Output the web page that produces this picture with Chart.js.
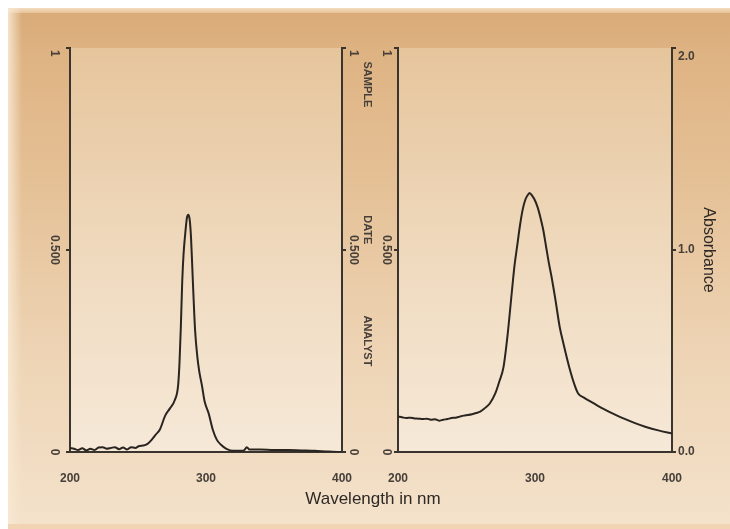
<!DOCTYPE html>
<html>
<head>
<meta charset="utf-8">
<title>Absorption spectra</title>
<script src="https://cdn.jsdelivr.net/npm/chart.js@4.4.1/dist/chart.umd.min.js"></script>
<style>
  html, body { margin: 0; padding: 0; background: #fff; }
  #stage { position: relative; width: 730px; height: 529px; overflow: hidden; background: #fff;
    font-family: 'Liberation Sans', Arial, sans-serif; }
  #frame { position: absolute; left: 8px; top: 8px; width: 722px; height: 516px;
    background: linear-gradient(180deg, #d9aa77 0%, #dfb484 10%, #e5c197 35%, #edd3b3 65%, #f4e2cb 100%); }
  #frame::before { content: ''; position: absolute; left: 0; top: 0; right: 0; height: 5px;
    background: linear-gradient(180deg, #f3dcc0, #e7c297); }
  #frame::after { content: ''; position: absolute; left: 0; top: 0; bottom: 0; width: 14px;
    background: linear-gradient(90deg, rgba(248, 232, 210, 0.9), rgba(248, 232, 210, 0)); }
  #foot { position: absolute; left: 8px; top: 524px; width: 722px; height: 5px; background: #f1d4b4; }
  canvas { position: absolute; top: 0; }
  #left { left: 0; }
  #right { left: 375px; }
  #xtitle { position: absolute; left: 0; width: 746px; top: 489px; text-align: center;
    font-size: 17px; color: #2e2925; }
</style>
</head>
<body>
<div id="stage">
  <div id="frame"></div>
  <div id="foot"></div>
  <canvas id="left" width="385" height="529"></canvas>
  <canvas id="right" width="355" height="529"></canvas>
  <div id="xtitle">Wavelength in nm</div>
</div>
<script>
// left trace: narrow band, relative scale 0..1
const leftWavelength = [200, 203, 206, 209, 212, 215, 218, 221, 224, 227, 230, 233, 236, 239, 242, 245, 248, 251, 254, 257,
  260, 263, 266, 270, 273.5, 277, 279.5, 280.5, 281.5, 282.5, 283.5, 285, 286, 287, 288, 289, 290, 291, 292, 293.5,
  295, 297, 299, 302, 305, 308, 311, 315, 320, 326, 328, 330, 332, 340, 350, 360, 370, 380, 390, 400]
const leftReading = [0.010, 0.008, 0.005, 0.009, 0.004, 0.008, 0.005, 0.011, 0.012, 0.008, 0.010, 0.012, 0.007, 0.011, 0.006, 0.012, 0.010, 0.015, 0.016, 0.020,
  0.030, 0.043, 0.055, 0.090, 0.108, 0.128, 0.165, 0.22, 0.31, 0.42, 0.49, 0.55, 0.58, 0.587, 0.575, 0.53, 0.45, 0.37, 0.30, 0.24,
  0.20, 0.165, 0.125, 0.095, 0.055, 0.03, 0.018, 0.008, 0.003, 0.003, 0.004, 0.012, 0.006, 0.006, 0.005, 0.005, 0.004, 0.003, 0.001, 0.000]

// right trace: broad band, absorbance 0..2
const rightWavelength = [200, 203, 206, 209, 212, 215, 218, 221, 224, 227, 230, 233, 236, 239, 242, 245, 248, 251, 254, 257,
  260, 263, 267, 271, 274, 277, 280, 283, 285, 287, 289, 291, 293, 295, 296, 298, 300, 302, 304, 306,
  308, 310, 312, 315, 318, 321, 325, 329, 331.5, 336, 340, 345, 350, 357, 365, 373, 381, 390, 400]
const rightAbsorbance = [0.175, 0.172, 0.168, 0.170, 0.166, 0.165, 0.163, 0.165, 0.160, 0.162, 0.155, 0.160, 0.163, 0.168, 0.170, 0.175, 0.180, 0.183, 0.187, 0.193,
  0.200, 0.215, 0.24, 0.29, 0.35, 0.42, 0.58, 0.786, 0.92, 1.02, 1.12, 1.20, 1.25, 1.275, 1.282, 1.268, 1.245, 1.21, 1.16, 1.10,
  1.02, 0.94, 0.87, 0.75, 0.62, 0.53, 0.42, 0.33, 0.29, 0.268, 0.252, 0.232, 0.213, 0.19, 0.165, 0.143, 0.124, 0.107, 0.092]

const relativeTicks = { 0: '0', 0.5: '0.500', 1: '1' }
const absorbanceTicks = { 0: '0.0', 1: '1.0', 2: '2.0' }
const captions = [
  { text: 'SAMPLE', at: 0.91 },
  { text: 'DATE', at: 0.55 },
  { text: 'ANALYST', at: 0.275 }
]

const lineColor = '#2a2520'
const axisColor = '#3a342e'
const labelColor = '#47403a'
const labelFont = 'bold 12px "Liberation Sans", Arial, sans-serif'
const captionFont = 'bold 11px "Liberation Sans", Arial, sans-serif'

function points (xs, ys) {
  return xs.map((x, i) => ({ x, y: ys[i] }))
}

function fixedWidth (w) {
  return scale => { scale.width = w }
}

function fixedHeight (h) {
  return scale => { scale.height = h }
}

// lighter panel behind each trace
const plotBackground = {
  id: 'plotBackground',
  beforeDraw (chart) {
    const { ctx, chartArea: a } = chart
    const g = ctx.createLinearGradient(0, a.top, 0, a.bottom)
    g.addColorStop(0, '#e6c59c')
    g.addColorStop(0.5, '#efd9bd')
    g.addColorStop(1, '#f6e9d8')
    ctx.save()
    ctx.fillStyle = g
    ctx.fillRect(a.left, a.top, a.right - a.left, a.bottom - a.top)
    ctx.restore()
  }
}

// y tick labels (rotated on the relative axes) and the side captions
const sideLabels = {
  id: 'sideLabels',
  afterDraw (chart, args, opts) {
    const ctx = chart.ctx
    const top = chart.chartArea.top
    ctx.save()
    ctx.fillStyle = labelColor
    ctx.textBaseline = 'middle'
    for (const axis of opts.axes || []) {
      const scale = chart.scales[axis.id]
      const x = (axis.dx < 0 ? scale.right : scale.left) + axis.dx
      ctx.font = labelFont
      for (const tick of scale.ticks) {
        const py = scale.getPixelForValue(tick.value)
        const w = ctx.measureText(tick.label).width
        if (axis.rotate) {
          const y = Math.max(py, top + w / 2 + 2)
          ctx.save()
          ctx.translate(x, y)
          ctx.rotate(Math.PI / 2)
          ctx.textAlign = 'center'
          ctx.fillText(tick.label, 0, 0)
          ctx.restore()
        } else {
          ctx.textAlign = 'left'
          ctx.fillText(tick.label, x, Math.max(py, top + 9))
        }
      }
    }
    if (opts.captions) {
      const scale = chart.scales[opts.captions.id]
      ctx.font = captionFont
      for (const c of captions) {
        ctx.save()
        ctx.translate(scale.left + opts.captions.dx, scale.getPixelForValue(c.at))
        ctx.rotate(Math.PI / 2)
        ctx.textAlign = 'center'
        ctx.fillText(c.text, 0, 0)
        ctx.restore()
      }
    }
    ctx.restore()
  }
}

function yAxis (position, max, labels, width, extra) {
  return Object.assign({
    type: 'linear',
    position,
    min: 0,
    max,
    afterFit: fixedWidth(width),
    ticks: { display: false, stepSize: max / 2, callback: v => labels[v] },
    grid: { drawOnChartArea: false, tickLength: 4, color: axisColor, lineWidth: 2 },
    border: { color: axisColor, width: 2 }
  }, extra || {})
}

function xAxis () {
  return {
    type: 'linear',
    min: 200,
    max: 400,
    afterFit: fixedHeight(77),
    grid: { display: false },
    border: { color: axisColor, width: 2 },
    ticks: {
      stepSize: 100,
      padding: 11,
      color: labelColor,
      font: { family: '"Liberation Sans", Arial, sans-serif', size: 12, weight: 'bold' }
    }
  }
}

function trace (xs, ys, axisId) {
  return {
    data: points(xs, ys),
    yAxisID: axisId,
    borderColor: lineColor,
    borderWidth: 2,
    pointRadius: 0,
    cubicInterpolationMode: 'monotone'
  }
}

new Chart(document.getElementById('left'), {
  type: 'line',
  data: { datasets: [trace(leftWavelength, leftReading, 'rel')] },
  plugins: [plotBackground, sideLabels],
  options: {
    responsive: false,
    animation: false,
    layout: { padding: { top: 48 } },
    plugins: {
      legend: { display: false },
      tooltip: { enabled: false },
      sideLabels: {
        axes: [{ id: 'rel', dx: -16, rotate: true }, { id: 'relRight', dx: 11, rotate: true }],
        captions: { id: 'relRight', dx: 25 }
      }
    },
    scales: {
      x: xAxis(),
      rel: yAxis('left', 1, relativeTicks, 70),
      relRight: yAxis('right', 1, relativeTicks, 43)
    }
  }
})

new Chart(document.getElementById('right'), {
  type: 'line',
  data: { datasets: [trace(rightWavelength, rightAbsorbance, 'abs')] },
  plugins: [plotBackground, sideLabels],
  options: {
    responsive: false,
    animation: false,
    layout: { padding: { top: 48 } },
    plugins: {
      legend: { display: false },
      tooltip: { enabled: false },
      sideLabels: {
        axes: [{ id: 'rel', dx: -12, rotate: true }, { id: 'abs', dx: 6, rotate: false }]
      }
    },
    scales: {
      x: xAxis(),
      rel: yAxis('left', 1, relativeTicks, 23),
      abs: yAxis('right', 2, absorbanceTicks, 58, {
        title: {
          display: true,
          text: 'Absorbance',
          color: '#2e2925',
          padding: { top: 12, bottom: 0 },
          font: { family: '"Liberation Sans", Arial, sans-serif', size: 16 }
        }
      })
    }
  }
})
</script>
</body>
</html>
